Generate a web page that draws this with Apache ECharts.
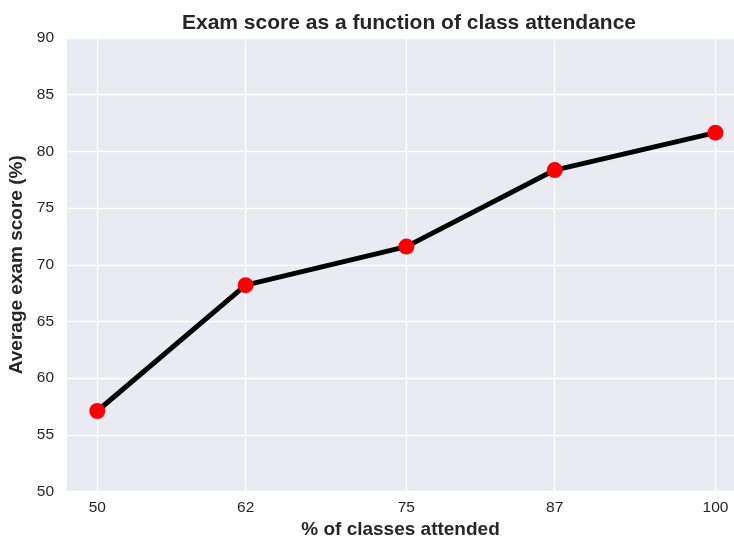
<!DOCTYPE html>
<html>
<head>
<meta charset="utf-8">
<script src="https://cdn.jsdelivr.net/npm/echarts@6/dist/echarts.min.js"></script>
<style>html,body{margin:0;padding:0;background:#fff;}#c{width:734px;height:538px;}</style>
</head>
<body>
<div id="c"></div>
<script>
const attendance = [50, 62, 75, 87, 100];
const scores = [57.1, 68.2, 71.6, 78.35, 81.65];
const xTicks = [50, 62, 75, 87, 100];
const yTicks = [50, 55, 60, 65, 70, 75, 80, 85, 90];

const chart = echarts.init(document.getElementById('c'), null, {renderer: 'canvas'});
const txt = '#262626';
const ff = 'Liberation Sans, Arial, sans-serif';
chart.setOption({
  backgroundColor: '#ffffff',
  animation: false,
  title: {
    text: 'Exam score as a function of class attendance',
    left: 404, top: 8, textAlign: 'center',
    textStyle: {fontFamily: ff, fontSize: 21, fontWeight: 'bold', color: txt}
  },
  grid: {left: 67, right: 0, top: 38, bottom: 46.5, show: true, backgroundColor: '#EAEAF2', borderWidth: 0, containLabel: false, outerBoundsMode: 'none'},
  xAxis: {
    type: 'value', min: 47.55, max: 101.5,
    name: '% of classes attended', nameLocation: 'middle', nameGap: 27,
    nameTextStyle: {fontFamily: ff, fontSize: 19, fontWeight: 'bold', color: txt},
    axisLine: {show: false},
    axisTick: {show: false, customValues: xTicks},
    axisLabel: {customValues: xTicks, color: txt, fontSize: 15.5, margin: 8, fontFamily: ff},
    splitLine: {show: true, lineStyle: {color: '#ffffff', width: 1.3}}
  },
  yAxis: {
    type: 'value', min: 50, max: 90, interval: 5,
    name: 'Average exam score (%)', nameLocation: 'middle', nameGap: 36,
    nameTextStyle: {fontFamily: ff, fontSize: 19, fontWeight: 'bold', color: txt},
    axisLine: {show: false},
    axisTick: {show: false},
    axisLabel: {color: txt, fontSize: 15.5, margin: 13, fontFamily: ff},
    splitLine: {show: true, lineStyle: {color: '#ffffff', width: 1.3}}
  },
  series: [{
    type: 'line',
    data: attendance.map((x, i) => [x, scores[i]]),
    lineStyle: {color: '#000000', width: 5},
    symbol: 'circle', symbolSize: 16,
    itemStyle: {color: '#ff0000', borderWidth: 0},
    z: 3
  }]
});
</script>
</body>
</html>
